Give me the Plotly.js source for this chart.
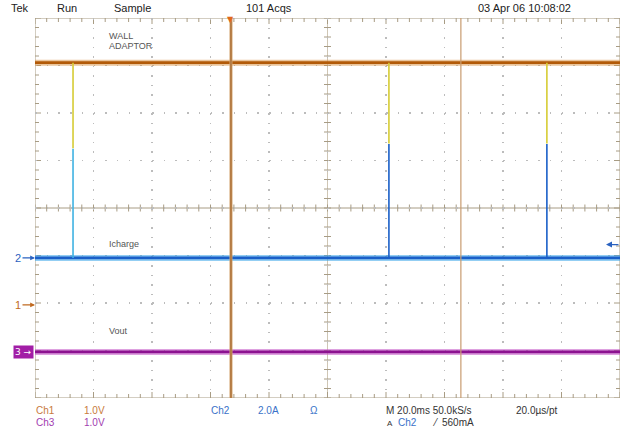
<!DOCTYPE html>
<html><head><meta charset="utf-8">
<script src="https://cdn.plot.ly/plotly-3.0.1.min.js"></script>
<style>html,body{margin:0;padding:0;background:#fff;}#chart{width:624px;height:438px;}</style>
</head><body><div id="chart"></div>
<script>
const timeRange = [-67, 133];            // ms across the screen, 20 ms/div
const spikeTimes = [-54, 0, 54, 108];    // ms, charge pulses
const ch1Level = [5.1, 5.1];             // V, WALL ADAPTOR
const ch1DipV = [3.3, 3.4, 3.4, 3.4];    // V, dip during each pulse
const ch2Level = [0, 0];                 // A, Icharge baseline
const ch2PeakA = [4.6, 4.8, 4.8, 4.8];   // A, pulse peaks
const ch3Level = [0, 0];                 // V, Vout
const cursorTimes = [0, 78.6];           // ms, trigger / reference lines
const trigLevelA = 0.56;                 // A, trigger level on Ch2

// ---- channel scaling (per division) and ground offsets (divisions) ----
const chScale = {ch1: 1.0, ch2: 2.0, ch3: 1.0};
const chOffset = {ch1: -2.04, ch2: -1.05, ch3: -3.03};
const toDiv = (ch, v) => chOffset[ch] + v / chScale[ch];

const C1 = '#b25a08', C1h = '#d9954a';
const C2 = '#1a5fc8', C2h = '#3aa6ea';
const C3 = '#8c1290', C3h = '#c254c6';

function flat(ch, lv, color, w, op) {
  return {x: timeRange.slice(), y: lv.map(v => toDiv(ch, v)), mode: 'lines',
    line: {color: color, width: w}, opacity: op, hoverinfo: 'skip'};
}
const traces = [
  flat('ch3', ch3Level, C3h, 6, 0.55), flat('ch3', ch3Level, C3, 2.6, 1),
  flat('ch2', ch2Level, C2h, 6, 0.55), flat('ch2', ch2Level, C2, 2.6, 1),
  flat('ch1', ch1Level, C1h, 6, 0.55), flat('ch1', ch1Level, C1, 2.6, 1)
];
const spikeColors = ['#3fb2e2', C2, C2, C2];
spikeTimes.forEach((t, i) => {
  traces.push({x: [t, t], y: [toDiv('ch2', 0), toDiv('ch2', ch2PeakA[i])], mode: 'lines',
    line: {color: spikeColors[i], width: 1.6}, hoverinfo: 'skip'});
  traces.push({x: [t, t], y: [toDiv('ch1', ch1Level[0]), toDiv('ch1', ch1DipV[i])], mode: 'lines',
    line: {color: '#d6cc34', width: 1.6}, hoverinfo: 'skip'});
});

// ---- graticule ----
const GC = '#a89c84';
const yPx = 47.5, xPx = 58.5, msPerDiv = 20;
const shapes = [];
const xMid = timeRange[0] + 5 * msPerDiv;
shapes.push({type: 'rect', xref: 'x', yref: 'y', x0: timeRange[0], x1: timeRange[1], y0: -4, y1: 4,
  line: {color: GC, width: 1}, layer: 'below'});
shapes.push({type: 'line', xref: 'x', yref: 'y', x0: timeRange[0], x1: timeRange[1], y0: 0, y1: 0,
  line: {color: GC, width: 1}, layer: 'below'});
shapes.push({type: 'line', xref: 'x', yref: 'y', x0: xMid, x1: xMid, y0: -4, y1: 4,
  line: {color: '#cfc6b4', width: 1}, layer: 'below'});
for (let k = 0; k <= 50; k++) {
  const x = timeRange[0] + k * msPerDiv / 5;
  const len = (k % 5 === 0 ? 6 : 4) / yPx;
  shapes.push({type: 'line', xref: 'x', yref: 'y', x0: x, x1: x, y0: 4, y1: 4 - len, line: {color: GC, width: 1}, layer: 'below'});
  shapes.push({type: 'line', xref: 'x', yref: 'y', x0: x, x1: x, y0: -4, y1: -4 + len, line: {color: GC, width: 1}, layer: 'below'});
  shapes.push({type: 'line', xref: 'x', yref: 'y', x0: x, x1: x, y0: -3.5 / yPx, y1: 3.5 / yPx, line: {color: GC, width: 1}, layer: 'below'});
}
for (let k = 0; k <= 40; k++) {
  const y = -4 + k * 0.2;
  const len = (k % 5 === 0 ? 6 : 4) / xPx * msPerDiv;
  shapes.push({type: 'line', xref: 'x', yref: 'y', x0: timeRange[0], x1: timeRange[0] + len, y0: y, y1: y, line: {color: GC, width: 1}, layer: 'below'});
  shapes.push({type: 'line', xref: 'x', yref: 'y', x0: timeRange[1], x1: timeRange[1] - len, y0: y, y1: y, line: {color: GC, width: 1}, layer: 'below'});
  const h = 3.5 / xPx * msPerDiv;
  shapes.push({type: 'line', xref: 'x', yref: 'y', x0: xMid - h, x1: xMid + h, y0: y, y1: y, line: {color: GC, width: 1}, layer: 'below'});
}
// cursor / trigger lines
shapes.push({type: 'line', xref: 'x', yref: 'paper', x0: cursorTimes[0], x1: cursorTimes[0], y0: 0, y1: 1,
  line: {color: '#d3a46e', width: 3}, layer: 'above'});
shapes.push({type: 'line', xref: 'x', yref: 'paper', x0: cursorTimes[0], x1: cursorTimes[0], y0: 0, y1: 1,
  line: {color: '#9a5a22', width: 1}, layer: 'above'});
shapes.push({type: 'line', xref: 'x', yref: 'paper', x0: cursorTimes[1], x1: cursorTimes[1], y0: 0, y1: 1,
  line: {color: '#c89c70', width: 1.2}, layer: 'above'});

// ---- text ----
const L = 35, R = 620, T = 18, B = 398;
const px = x => (x - L) / (R - L), py = y => (B - y) / (B - T);
const FF = 'Liberation Sans, Arial, sans-serif';
function txt(s, x, y, color, size) {
  return {text: s, x: px(x), y: py(y), xref: 'paper', yref: 'paper', xanchor: 'left', yanchor: 'middle',
    showarrow: false, font: {family: FF, size: size || 10, color: color || '#222'}};
}
const annotations = [
  txt('Tek', 9, 8, '#222', 11), txt('Run', 55, 8, '#222', 11), txt('Sample', 112, 8, '#222', 11),
  txt('101 Acqs', 244, 8, '#222', 11), txt('03 Apr 06 10:08:02', 476, 8, '#222', 11),
  txt('WALL', 107, 36, '#555', 9), txt('ADAPTOR', 107, 46, '#555', 9),
  txt('Icharge', 107, 244, '#555', 9), txt('Vout', 107, 331, '#555', 9),
  txt('Ch1', 34, 410, '#c87a3c'), txt('1.0V', 82, 410, '#c87a3c'),
  txt('Ch3', 34, 422, '#a23cb0'), txt('1.0V', 82, 422, '#a23cb0'),
  txt('Ch2', 209, 410, '#3a72c8'), txt('2.0A', 256, 410, '#3a72c8'), txt('Ω', 308, 410, '#3a72c8'),
  txt('M 20.0ms 50.0kS/s', 384, 410, '#333'), txt('20.0µs/pt', 514, 410, '#333'),
  txt('A', 385, 423, '#333', 8), txt('Ch2', 396, 422, '#3a72c8'), txt('⁄', 430, 422, '#333'), txt('560mA', 440, 422, '#333'),
  {text: '2', x: timeRange[0], y: toDiv('ch2', 0), xref: 'x', yref: 'y', showarrow: true, ax: -17, ay: 0,
    arrowhead: 2, arrowsize: 0.8, arrowwidth: 1.2, arrowcolor: '#2a62c0', standoff: 0,
    font: {family: FF, size: 11, color: '#2a62c0'}},
  {text: '1', x: timeRange[0], y: toDiv('ch1', 0), xref: 'x', yref: 'y', showarrow: true, ax: -17, ay: 0,
    arrowhead: 2, arrowsize: 0.8, arrowwidth: 1.2, arrowcolor: '#c06a20', standoff: 0,
    font: {family: FF, size: 11, color: '#c06a20'}},
  {text: '3 →', x: px(34), y: toDiv('ch3', 0), xref: 'paper', yref: 'y', xanchor: 'right', yanchor: 'middle',
    showarrow: false, bgcolor: '#a21ea6', borderpad: 1,
    font: {family: 'DejaVu Sans, sans-serif', size: 9, color: '#fff'}},
  {text: '', x: px(606), y: toDiv('ch2', trigLevelA), xref: 'paper', yref: 'y', showarrow: true, ax: 14, ay: 0,
    arrowhead: 2, arrowsize: 1, arrowwidth: 1.2, arrowcolor: '#2a62c0', standoff: 0},
  {text: '▼', x: cursorTimes[0], y: py(19), xref: 'x', yref: 'paper', showarrow: false, yanchor: 'middle',
    font: {family: 'DejaVu Sans, sans-serif', size: 8, color: '#e0681a'}}
];

const layout = {
  width: 624, height: 438, margin: {l: L, r: 624 - R, t: T, b: 438 - B},
  paper_bgcolor: '#fff', plot_bgcolor: '#fff', showlegend: false,
  xaxis: {range: timeRange, tick0: timeRange[0], dtick: msPerDiv, showticklabels: false, ticks: '',
    showgrid: true, gridcolor: '#bcbcbc', gridwidth: 1.5, griddash: '1.5px,8px', zeroline: false, showline: false, fixedrange: true},
  yaxis: {range: [-4, 4], tick0: -4, dtick: 1, showticklabels: false, ticks: '',
    showgrid: true, gridcolor: '#bcbcbc', gridwidth: 1.5, griddash: '1.5px,10.2px', zeroline: false, showline: false, fixedrange: true},
  shapes: shapes, annotations: annotations
};
Plotly.newPlot('chart', traces, layout, {staticPlot: true, displayModeBar: false});
</script></body></html>
